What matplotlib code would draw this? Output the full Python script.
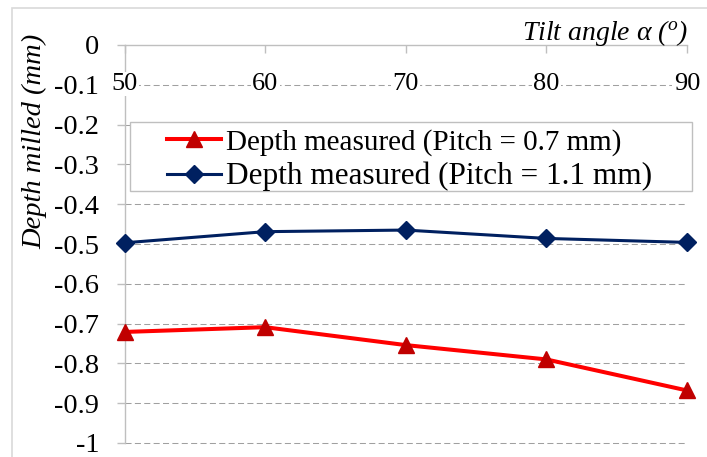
import matplotlib
matplotlib.use("Agg")
import matplotlib.pyplot as plt
from matplotlib.patches import Rectangle
from matplotlib.lines import Line2D

plt.rcParams['font.family'] = ['Liberation Serif', 'DejaVu Serif']
plt.rcParams['mathtext.fontset'] = 'custom'
plt.rcParams['mathtext.it'] = 'Liberation Serif:italic'
plt.rcParams['mathtext.rm'] = 'Liberation Serif'
plt.rcParams['axes.unicode_minus'] = False

# ---- data ----
tilt_angles = [50, 60, 70, 80, 90]
depth_pitch_07 = [-0.721, -0.709, -0.754, -0.790, -0.868]
depth_pitch_11 = [-0.497, -0.469, -0.465, -0.486, -0.496]
yticks = [0, -0.1, -0.2, -0.3, -0.4, -0.5, -0.6, -0.7, -0.8, -0.9, -1.0]
ytick_labels = ['0', '-0.1', '-0.2', '-0.3', '-0.4', '-0.5', '-0.6', '-0.7', '-0.8', '-0.9', '-1']
label_07 = 'Depth measured (Pitch = 0.7 mm)'
label_11 = 'Depth measured (Pitch = 1.1 mm)'
x_title = 'Tilt angle α ($^{o}$)'
y_title = 'Depth milled (mm)'

W, H = 707, 457
fig = plt.figure(figsize=(W / 100, H / 100), dpi=100)

def fx(px):
    return px / W

def fy(py):
    return 1 - py / H

# outer chart border (light gray)
fig.patches.append(Rectangle((fx(12), fy(470)), fx(720) - fx(12), fy(8) - fy(470),
                             transform=fig.transFigure, facecolor='none',
                             edgecolor='#D9D9D9', lw=1.2))

ax = fig.add_axes([fx(124.5), fy(443), fx(687) - fx(124.5), fy(45) - fy(443)])
ax.set_xlim(50, 90)
ax.set_ylim(-1, 0)

axis_gray = '#BFBFBF'
for s in ['bottom', 'right']:
    ax.spines[s].set_visible(False)
for s in ['left', 'top']:
    ax.spines[s].set_color(axis_gray)
    ax.spines[s].set_linewidth(1.0)
    ax.spines[s].set_zorder(2.5)

ax.set_yticks(yticks)
ax.set_yticklabels(ytick_labels)
ax.tick_params(axis='y', direction='out', length=5.8, width=1.0, color=axis_gray,
               labelsize=20.5, pad=12.3)
ax.xaxis.set_ticks_position('top')
ax.set_xticks(tilt_angles)
ax.tick_params(axis='x', direction='in', length=5.8, width=1.0, color=axis_gray,
               labeltop=False, labelbottom=False)

# dashed horizontal gridlines (below the top axis line)
ax.hlines(yticks[1:], 50, 90, colors='#A0A0A0', linewidth=0.75,
          linestyles=(0, (5.8, 3.2)), zorder=1, clip_on=False)

for xv in tilt_angles:
    ax.text(xv, -0.098, str(xv), ha='center', va='center', fontsize=19, zorder=3,
            bbox=dict(facecolor='white', edgecolor='none', pad=1))

ax.plot(tilt_angles, depth_pitch_07, color='#FF0000', lw=2.9, marker='^', ms=12,
        markerfacecolor='#C00000', markeredgecolor='#C00000', zorder=4, clip_on=False)
ax.plot(tilt_angles, depth_pitch_11, color='#002060', lw=2.2, marker='D', ms=9.5,
        markerfacecolor='#002060', markeredgecolor='#002060', zorder=4, clip_on=False)

# legend frame
fig.patches.append(Rectangle((fx(129.5), fy(191)), fx(692) - fx(129.5), fy(122) - fy(191),
                             transform=fig.transFigure, facecolor='white',
                             edgecolor=axis_gray, lw=1.0, zorder=5))
handles = [Line2D([], [], color='#FF0000', lw=2.9, marker='^', ms=12,
                  markerfacecolor='#C00000', markeredgecolor='#C00000'),
           Line2D([], [], color='#002060', lw=2.2, marker='D', ms=9.5,
                  markerfacecolor='#002060', markeredgecolor='#002060')]
leg = fig.legend(handles, [label_07, label_11], loc='center',
                 bbox_to_anchor=(fx(409.5), fy(160)), bbox_transform=fig.transFigure,
                 frameon=False, fontsize=21, handlelength=1.85, handletextpad=0.17,
                 labelspacing=0.22, borderpad=0, alignment='left')
leg.get_texts()[1].set_fontsize(22.5)
leg.set_zorder(6)

fig.text(fx(688), fy(33), x_title, ha='right', va='center', fontsize=20, style='italic')
fig.text(fx(35), fy(141), y_title, ha='center', va='center', fontsize=20.5,
         style='italic', rotation=90)

fig.savefig('out.png', dpi=100)
